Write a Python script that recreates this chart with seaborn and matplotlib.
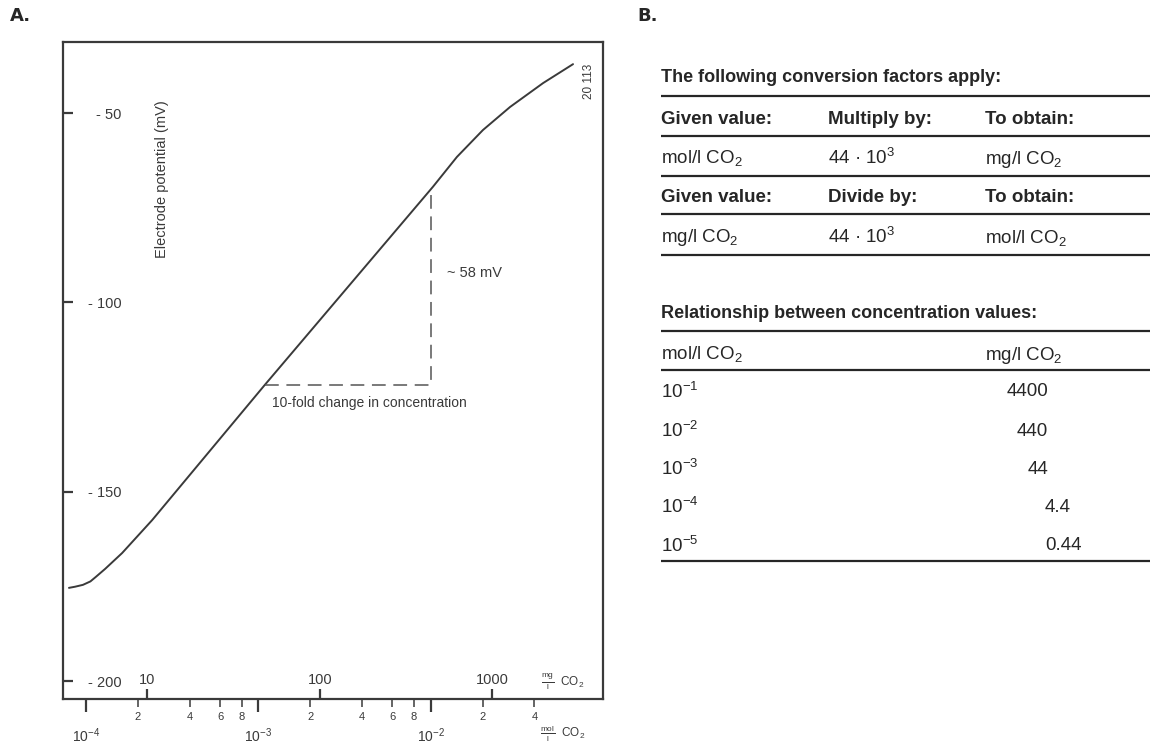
import matplotlib
matplotlib.use("Agg")
import matplotlib.pyplot as plt
from matplotlib import font_manager as fm
from matplotlib.ticker import FixedLocator, FixedFormatter, NullLocator
import seaborn as sns
import pandas as pd

# ---------------- data ----------------
mol_conc = [7.96e-5, 8.63e-5, 9.6e-5, 1.06e-4, 1.14e-4, 1.29e-4, 1.62e-4, 2.42e-4,
            1.09e-3, 1.03e-2, 1.42e-2, 2.01e-2, 2.89e-2, 4.49e-2, 6.70e-2]
potential_mv = [-175.4, -175.1, -174.6, -173.7, -172.5, -170.4, -166.2, -157.5,
                -121.8, -69.5, -61.6, -54.5, -48.4, -42.1, -37.1]

tri_x = [1.09e-3, 1.0e-2, 1.0e-2]
tri_y = [-121.8, -121.8, -70.3]

y_ticks = [-50, -100, -150, -200]
y_labels = ["- 50", "- 100", "- 150", "- 200"]

mol_major = [1e-4, 1e-3, 1e-2]
mol_major_labels = ["10$^{-4}$", "10$^{-3}$", "10$^{-2}$"]
mol_minor = [2e-4, 4e-4, 6e-4, 8e-4, 2e-3, 4e-3, 6e-3, 8e-3, 2e-2, 4e-2]
mol_minor_labels = ["2", "4", "6", "8", "2", "4", "6", "8", "2", "4"]

mg_ticks = [10, 100, 1000]
mg_labels = ["10", "100", "1000"]
MG_PER_MOL = 44000.0

conv_title = "The following conversion factors apply:"
conv_head1 = ["Given value:", "Multiply by:", "To obtain:"]
conv_row1 = ["mol/l CO$_2$", "44 · 10$^3$", "mg/l CO$_2$"]
conv_head2 = ["Given value:", "Divide by:", "To obtain:"]
conv_row2 = ["mg/l CO$_2$", "44 · 10$^3$", "mol/l CO$_2$"]

rel_title = "Relationship between concentration values:"
rel_head = ["mol/l CO$_2$", "mg/l CO$_2$"]
rel_mol = ["10$^{-1}$", "10$^{-2}$", "10$^{-3}$", "10$^{-4}$", "10$^{-5}$"]
rel_mg = ["4400", "440", "44", "4.4", "0.44"]

# ---------------- style ----------------
sns.set_theme(style="white")
avail = {f.name for f in fm.fontManager.ttflist}
narrow = "Liberation Sans Narrow" if "Liberation Sans Narrow" in avail else "Liberation Sans"
plt.rcParams["font.family"] = [narrow, "DejaVu Sans"]
plt.rcParams["mathtext.default"] = "regular"

ink = "#3a3a3a"
W, H = 1150, 745
fig = plt.figure(figsize=(11.5, 7.45), dpi=100)
fig.patch.set_facecolor("white")

# ---------------- panel A ----------------
ax = fig.add_axes([63 / W, 1 - 699 / H, 540 / W, 657 / H])
df = pd.DataFrame({"mol": mol_conc, "mV": potential_mv})
sns.lineplot(data=df, x="mol", y="mV", ax=ax, color=ink, lw=1.4,
             sort=False, estimator=None)
ax.plot(tri_x, tri_y, color="#555555", lw=1.1, ls=(0, (9, 5)))
ax.set_xscale("log")
ax.set_xlim(7.35e-5, 0.1)
ax.set_ylim(-204.75, -31.25)
ax.set_xlabel("")
ax.set_ylabel("")
for s in ax.spines.values():
    s.set_visible(True)
    s.set_color(ink)
    s.set_linewidth(1.6)

ax.yaxis.set_major_locator(FixedLocator(y_ticks))
ax.yaxis.set_major_formatter(FixedFormatter(y_labels))
ax.tick_params(axis="y", which="major", direction="in", left=True, length=7,
               width=1.6, color=ink, pad=-42, labelsize=10.5, labelcolor=ink)

ax.xaxis.set_major_locator(FixedLocator(mol_major))
ax.xaxis.set_major_formatter(FixedFormatter(mol_major_labels))
ax.xaxis.set_minor_locator(FixedLocator(mol_minor))
ax.xaxis.set_minor_formatter(FixedFormatter(mol_minor_labels))
ax.tick_params(axis="x", which="major", direction="out", bottom=True, length=9,
               width=1.6, color=ink, pad=11, labelsize=10, labelcolor=ink)
ax.tick_params(axis="x", which="minor", direction="out", bottom=True, length=6,
               width=1.1, color=ink, pad=3, labelsize=8, labelcolor=ink)

secax = ax.secondary_xaxis("bottom", functions=(lambda m: m * MG_PER_MOL,
                                                lambda g: g / MG_PER_MOL))
secax.xaxis.set_major_locator(FixedLocator(mg_ticks))
secax.xaxis.set_major_formatter(FixedFormatter(mg_labels))
secax.xaxis.set_minor_locator(NullLocator())
secax.tick_params(axis="x", which="major", direction="in", bottom=True, length=7,
                  width=1.6, color=ink, pad=-19, labelsize=10.5, labelcolor=ink)
secax.spines["bottom"].set_visible(False)

ax.text(0.925, 0.027, r"$\frac{mg}{l}$  CO$_2$", transform=ax.transAxes,
        ha="center", va="center", fontsize=8.5, color=ink)
ax.text(0.925, -0.053, r"$\frac{mol}{l}$  CO$_2$", transform=ax.transAxes,
        ha="center", va="center", fontsize=8.5, color=ink, clip_on=False)
ax.text(0.183, 0.792, "Electrode potential (mV)", transform=ax.transAxes,
        rotation=90, ha="center", va="center", fontsize=10.5, color=ink)
ax.text(0.975, 0.94, "20 113", transform=ax.transAxes, rotation=90,
        ha="center", va="center", fontsize=8.5, color=ink)
ax.text(0.711, 0.648, "~ 58 mV", transform=ax.transAxes, ha="left",
        va="center", fontsize=10.5, color=ink)
ax.text(0.387, 0.4505, "10-fold change in concentration", transform=ax.transAxes,
        ha="left", va="center", fontsize=10, color=ink)

fig.text(10 / W, 1 - 16 / H, "A.", fontsize=13, weight="bold",
         family="DejaVu Sans", va="center", ha="left")
fig.text(637 / W, 1 - 16 / H, "B.", fontsize=13, weight="bold",
         family="DejaVu Sans", va="center", ha="left")

# ---------------- panel B (tables) ----------------
tax = fig.add_axes([640 / W, 0, 510 / W, 1])
tax.set_xlim(640, 1150)
tax.set_ylim(745, 0)
tax.axis("off")

x0, x_end = 661, 1150
cols = [661, 828, 985]
fs_t = 13
fs = 13.5
tc = "#262626"
VA = "center_baseline"

def rule(y, lw=1.6):
    tax.hlines(y, x0, x_end, color=tc, lw=lw)

tax.text(x0, 76, conv_title, fontsize=fs_t, weight="bold", va=VA, color=tc)
rule(96)
for c, t in zip(cols, conv_head1):
    tax.text(c, 117, t, fontsize=fs, weight="bold", va=VA, color=tc)
rule(136)
for c, t in zip(cols, conv_row1):
    tax.text(c, 156, t, fontsize=fs, va=VA, color=tc)
rule(176)
for c, t in zip(cols, conv_head2):
    tax.text(c, 195, t, fontsize=fs, weight="bold", va=VA, color=tc)
rule(214)
for c, t in zip(cols, conv_row2):
    tax.text(c, 235, t, fontsize=fs, va=VA, color=tc)
rule(255)

tax.text(x0, 312, rel_title, fontsize=fs_t, weight="bold", va=VA, color=tc)
rule(331)
tax.text(x0, 352, rel_head[0], fontsize=fs, va=VA, color=tc)
tax.text(985, 352, rel_head[1], fontsize=fs, va=VA, color=tc)
rule(370)
row_y = [390, 429, 467, 505, 544]
for y, m, g in zip(row_y, rel_mol, rel_mg):
    tax.text(x0, y, m, fontsize=fs, va=VA, color=tc)
    if float(g) >= 10:
        tax.text(1048, y, g, fontsize=fs, va=VA, ha="right", color=tc)
    else:
        tax.text(1045, y, g, fontsize=fs, va=VA, ha="left", color=tc)
rule(561)

fig.savefig("out.png", dpi=100, facecolor="white")
